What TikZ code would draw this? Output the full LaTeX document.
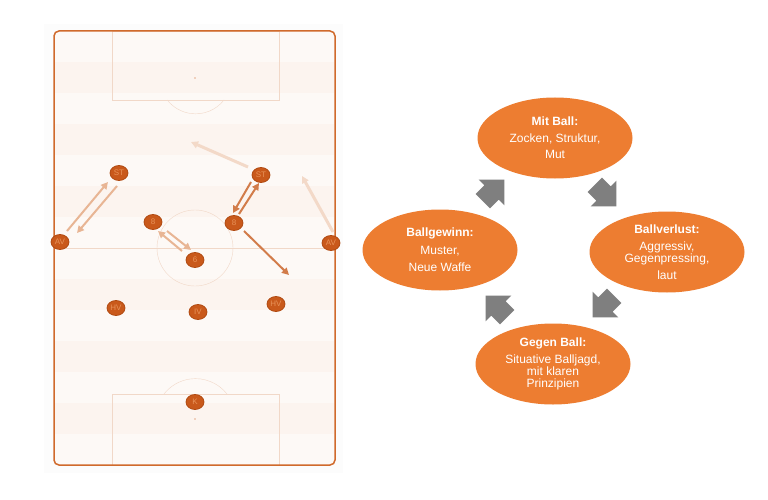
\documentclass[tikz,border=0pt]{standalone}
\usepackage{fontspec}
\setmainfont{Liberation Sans}
\usepackage{tikz}
\usetikzlibrary{shapes,shapes.arrows,arrows,arrows.meta}
\definecolor{pitchfill}{HTML}{FDF9F6}
\definecolor{pitchstripe}{HTML}{FCF4EF}
\definecolor{pitchline}{HTML}{F1D8C8}
\definecolor{pitchborder}{HTML}{D06A2C}
\definecolor{playerfill}{HTML}{C9591B}
\definecolor{playerdraw}{HTML}{B04A12}
\definecolor{playertext}{HTML}{E8935A}
\definecolor{runlight}{HTML}{E8B594}
\definecolor{rundark}{HTML}{D27C4A}
\definecolor{runpale}{HTML}{F3D9C8}
\definecolor{phasefill}{HTML}{ED7D31}
\definecolor{turngray}{HTML}{7F7F7F}
\tikzstyle{player}=[ellipse,draw=playerdraw,fill=playerfill,line width=0.8pt,minimum width=18pt,minimum height=15pt,inner sep=0pt,text=playertext,font=\fontsize{8}{8}\selectfont]
\tikzstyle{phase}=[ellipse,fill=phasefill,text=white,minimum width=155pt,minimum height=81pt,inner sep=0pt,align=center,font=\fontsize{12}{14}\selectfont]
\tikzstyle{turn}=[single arrow,fill=turngray,minimum height=30pt,inner sep=10pt,single arrow head extend=8pt]
\tikzstyle{run}=[line width=2pt,-{Triangle[length=7pt,width=7pt]}]

\begin{document}
\begin{tikzpicture}[x=1pt,y=-1pt]
\useasboundingbox (0,0) rectangle (768,500);
\fill[white] (0,0) rectangle (768,500);
\fill[black!1] (44,24) rectangle (343,473);
% pitch
\fill[pitchfill,rounded corners=5pt] (54,31) rectangle (335,465);
\fill[pitchstripe] (55,62) rectangle (334,93);
\fill[pitchstripe] (55,124) rectangle (334,155);
\fill[pitchstripe] (55,186) rectangle (334,217);
\fill[pitchstripe] (55,279) rectangle (334,310);
\fill[pitchstripe] (55,341) rectangle (334,372);
\fill[pitchstripe] (55,403) rectangle (334,434);
\draw[pitchline,thin] (112,31) rectangle (279,100);
\draw[pitchline,thin] (112,394) rectangle (279,465);
\draw[pitchline,thin] (224,100) arc[start angle=38,end angle=142,radius=36];
\draw[pitchline,thin] (227,394) arc[start angle=-38,end angle=-142,radius=40];
\fill[pitchline!60!pitchborder] (195,78) circle[radius=0.8];
\fill[pitchline!60!pitchborder] (195,419) circle[radius=0.8];
\draw[pitchline,thin] (54,248) -- (335,248);
\draw[pitchline,thin] (195,248) circle[radius=38];
\draw[pitchborder,line width=1.5pt,rounded corners=5pt] (54,31) rectangle (335,465);
% players
\node[player] (stl) at (119,173) {ST};
\node[player] (str) at (261,175) {ST};
\node[player] (eightl) at (153,222) {8};
\node[player] (eightr) at (234,223) {8};
\node[player] (avl) at (60,242) {AV};
\node[player] (avr) at (331,243) {AV};
\node[player] (six) at (195,260) {6};
\node[player] (hvl) at (116,308) {HV};
\node[player] (iv) at (198,312) {IV};
\node[player] (hvr) at (276,304) {HV};
\node[player] (k) at (195,402) {K};
\coordinate (runr) at (289,275);
\coordinate (runm) at (191,142);
\coordinate (runw) at (302,176);
% runs
\draw[run,runlight] ([shift={(7,-11)}]avl.center) -- ([shift={(-11,9)}]stl.center);
\draw[run,runlight] ([shift={(-2,13)}]stl.center) -- ([shift={(17,-9)}]avl.center);
\draw[run,runlight] ([shift={(14,9)}]eightl.center) -- ([shift={(-4,-10)}]six.center);
\draw[run,runlight] ([shift={(-13,-9)}]six.center) -- ([shift={(5,9)}]eightl.center);
\draw[run,rundark] ([shift={(5,-9)}]eightr.center) -- ([shift={(-2,8)}]str.center);
\draw[run,rundark] ([shift={(-10,7)}]str.center) -- ([shift={(-1,-10)}]eightr.center);
\draw[run,rundark] ([shift={(10,8)}]eightr.center) -- (runr);
\draw[run,runpale,line width=3pt] ([shift={(-13,-8)}]str.center) -- (runm);
\draw[run,runpale,line width=3pt] ([shift={(2,-11)}]avr.center) -- (runw);
% phases
\node[phase] (mitball) at (555,138) {\textbf{Mit Ball:}\\[3pt]Zocken, Struktur,\\[2pt]Mut};
\node[phase] (verlust) at (667,252) {\textbf{Ballverlust:}\\[3pt]Aggressiv,\\[-2pt]Gegenpressing,\\[3pt]laut};
\node[phase] (gegenball) at (553,364) {\textbf{Gegen Ball:}\\[3pt]Situative Balljagd,\\[-2pt]mit klaren\\[-2pt]Prinzipien};
\node[phase] (gewinn) at (440,250) {\textbf{Ballgewinn:}\\[4pt]Muster,\\[3pt]Neue Waffe};
\node[turn,rotate=45] (turna) at (490,194) {};
\node[turn,rotate=-45] (turnb) at (602,192) {};
\node[turn,rotate=-135] (turnc) at (607,303) {};
\node[turn,rotate=135] (turnd) at (500,310) {};
\end{tikzpicture}
\end{document}
